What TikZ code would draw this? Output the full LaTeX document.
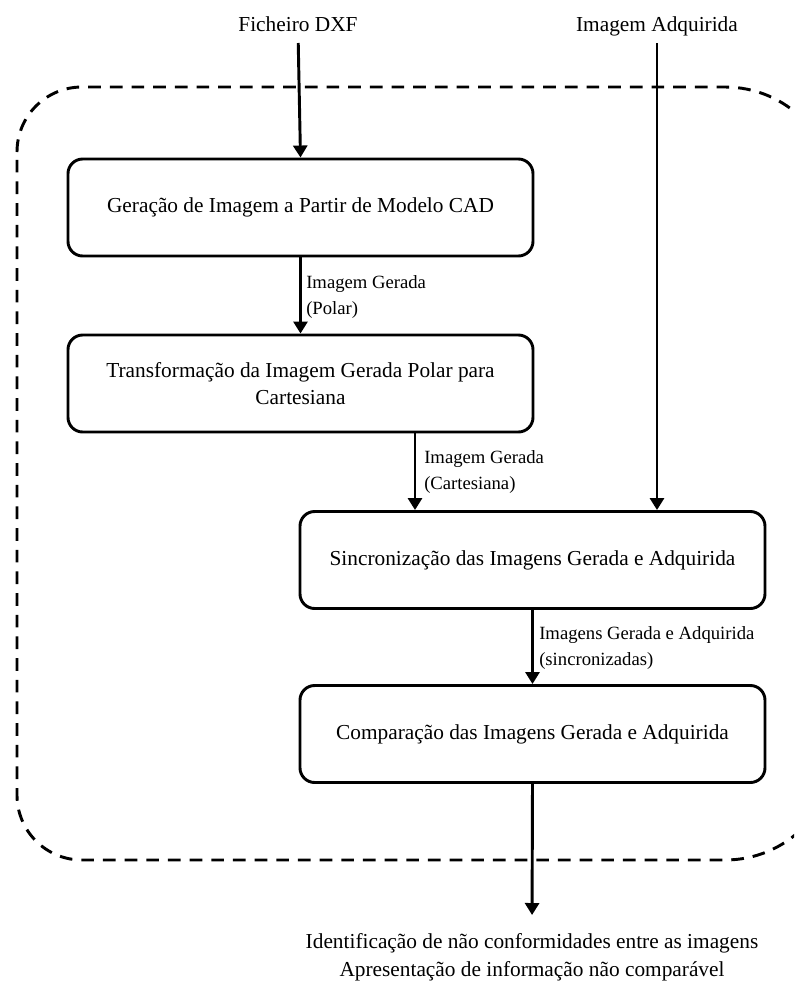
\documentclass[tikz,border=0pt]{standalone}
\usepackage{fontspec}
\setmainfont{Liberation Serif}
\usetikzlibrary{arrows.meta}

\begin{document}
\begin{tikzpicture}[x=0.75pt, y=-0.75pt,
  procbox/.style={draw, line width=2.2pt, rounded corners=11pt,
    minimum width=348.75pt, minimum height=72.75pt, align=center,
    inner sep=0pt, font=\fontsize{16}{20.25}\selectfont},
  flow/.style={line width=2.2pt, -{Triangle[length=9pt, width=10.5pt]}},
  inlabel/.style={anchor=base, inner sep=0pt, font=\fontsize{16}{20}\selectfont},
  edgelabel/.style={anchor=north west, inner sep=0pt, align=left,
    font=\fontsize{14}{20}\selectfont},
  boundary/.style={line width=2.2pt, dash pattern=on 9.5pt off 6.75pt}
]
\useasboundingbox (0,0) rectangle (794,983);

% dashed system boundary (its right side runs past the page edge)
\begin{scope}
  \clip (0,0) rectangle (794,983);
  \draw[boundary]
    (17,152) .. controls (17,116) and (46,87) .. (82,87)
    -- (725,87) .. controls (786,87) and (835,136) .. (835,197)
    -- (835,750) .. controls (835,811) and (786,860) .. (725,860)
    -- (82,860) .. controls (46,860) and (17,831) .. (17,795)
    -- cycle;
\end{scope}

% inputs
\node[inlabel] (dxf) at (298,31) {Ficheiro DXF};
\node[inlabel] (acq) at (657,31) {Imagem Adquirida};

% processing steps
\node[procbox] (b1) at (300.5,207.5) {Geração de Imagem a Partir de Modelo CAD};
\node[procbox] (b2) at (300.5,383.5) {Transformação da Imagem Gerada Polar para\\Cartesiana};
\node[procbox] (b3) at (532.5,560) {Sincronização das Imagens Gerada e Adquirida};
\node[procbox] (b4) at (532.5,734) {Comparação das Imagens Gerada e Adquirida};

% output
\node[anchor=north, inner sep=0pt, align=center,
      font=\fontsize{16}{21}\selectfont] (out) at (532,933)
  {Identificação de não conformidades entre as imagens\\Apresentação de informação não comparável};

% connectors
\coordinate (k) at (415,0);
\draw[flow, shorten <=9pt] (dxf.base) -- (b1.north);
\draw[flow, shorten <=9pt] (acq.base) -- (acq.base |- b3.north);
\draw[flow] (b1.south) -- (b2.north);
\draw[flow] (b2.south -| k) -- (b3.north -| k);
\draw[flow] (b3.south) -- (b4.north);
\draw[flow, shorten >=13.5pt] (b4.south) -- (out.north);

% connector labels
\node[edgelabel] (l1) at (306,275) {Imagem Gerada\\(Polar)};
\node[edgelabel] (l2) at (424,450) {Imagem Gerada\\(Cartesiana)};
\node[edgelabel] (l3) at (539,626) {Imagens Gerada e Adquirida\\(sincronizadas)};
\end{tikzpicture}
\end{document}
